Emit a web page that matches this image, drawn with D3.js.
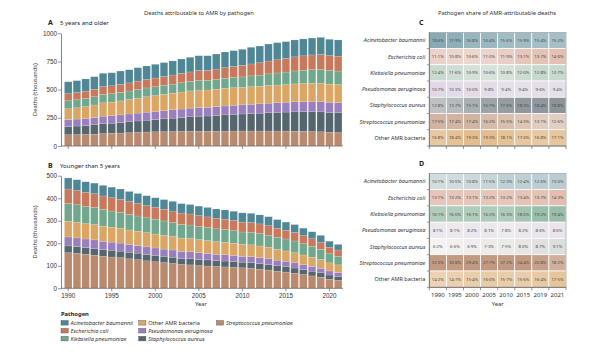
<!DOCTYPE html>
<html>
<head>
<meta charset="utf-8">
<script src="https://cdn.jsdelivr.net/npm/d3@7"></script>
<style>
  body { margin: 0; background: #fff; }
  svg { display: block; font-family: "Noto Sans", sans-serif; }
</style>
</head>
<body>
<div id="chart"></div>
<script>
const years = d3.range(1990, 2022);
const shareYears = [1990, 1995, 2000, 2005, 2010, 2015, 2019, 2021];

// stack order bottom -> top
const stackKeys = ["strep", "staph", "pseudo", "other", "kleb", "ecoli", "acin"];
const pathogenNames = {
    acin: "Acinetobacter baumannii",
    ecoli: "Escherichia coli",
    kleb: "Klebsiella pneumoniae",
    pseudo: "Pseudomonas aeruginosa",
    staph: "Staphylococcus aureus",
    strep: "Streptococcus pneumoniae",
    other: "Other AMR bacteria"
};
const pathogenColors = {
    acin: "#4f8797",
    ecoli: "#c8795c",
    kleb: "#71a88d",
    other: "#dba663",
    pseudo: "#9a7fbf",
    staph: "#56666f",
    strep: "#b98a6d"
};

// deaths (thousands), 5 years and older
const olderStrep  = [100,101,103,105,110,113,115,118,121,124,126,127,128,129,130,130,130,131,132,133,133,133,133,133,133,132,131,130,128,126,121,119];
const olderStaph  = [73,76,79,83,88,89,93,97,101,105,109,114,119,124,129,134,136,140,144,148,151,155,158,162,165,169,172,174,176,177,177,177];
const olderPseudo = [61,62,63,65,67,67,68,69,70,71,72,73,74,75,77,78,77,78,79,80,81,82,83,85,86,87,89,90,92,93,90,88];
const olderOther  = [96,100,105,111,118,120,124,128,133,137,140,144,147,151,153,155,154,155,156,156,155,156,156,157,157,157,159,160,161,162,161,161];
const olderKleb   = [71,71,72,73,75,75,76,76,77,78,79,80,81,82,83,85,85,87,89,91,93,96,99,103,107,111,115,118,121,123,121,120];
const olderEcoli  = [63,64,65,67,69,70,71,72,74,75,77,79,81,83,85,88,89,92,95,98,102,106,110,114,117,121,125,128,130,132,132,132];
const olderAcin   = [106,106,108,111,118,116,118,117,119,120,122,123,125,128,130,131,130,133,139,140,143,148,148,151,152,149,150,150,150,151,145,144];

// deaths (thousands), younger than 5 years
const youngStrep  = [158,155,151,147,142,139,136,131,127,122,118,114,110,106,104,101,99,97,95,93,91,89,85,81,76,72,67,61,55,49,40,35];
const youngStaph  = [30,30,30,30,30,30,29,29,29,28,28,28,28,27,27,27,27,26,26,26,25,25,25,25,24,24,23,22,21,20,19,18];
const youngPseudo = [40,39,38,38,37,36,36,35,34,34,33,32,32,31,31,30,29,28,28,27,26,26,26,25,25,24,23,22,21,20,18,17];
const youngOther  = [70,69,68,68,67,66,65,64,63,63,62,61,60,59,59,58,57,56,55,54,53,53,52,51,48,46,45,43,41,39,36,34];
const youngKleb   = [79,78,77,76,74,72,71,69,68,66,65,64,62,61,60,59,58,57,57,56,55,55,55,54,53,53,52,50,48,45,40,38];
const youngEcoli  = [64,63,62,61,60,59,58,57,55,54,53,52,51,50,49,48,47,46,46,45,44,44,43,42,41,39,38,36,34,32,29,28];
const youngAcin   = [49,48,47,47,47,47,46,45,45,44,43,43,43,42,42,42,42,42,41,41,41,41,40,40,38,36,35,33,31,30,27,25];

// pathogen share (%) rows in display order
const shareRowKeys = ["acin", "ecoli", "kleb", "pseudo", "staph", "strep", "other"];
const shareOlder = [
    [18.6, 17.9, 16.8, 16.4, 15.6, 15.9, 15.4, 15.2],
    [11.1, 10.8, 10.6, 11.0, 11.9, 13.1, 13.7, 14.0],
    [12.4, 11.6, 10.9, 10.6, 10.8, 12.0, 12.8, 12.7],
    [10.7, 10.3, 10.0, 9.8, 9.4, 9.4, 9.6, 9.4],
    [12.8, 13.7, 15.1, 16.7, 17.6, 18.3, 18.4, 18.8],
    [17.5, 17.4, 17.4, 16.2, 15.5, 14.3, 13.1, 12.6],
    [16.8, 18.4, 19.3, 19.3, 18.1, 17.0, 16.8, 17.1]
];
const shareYoung = [
    [10.1, 10.5, 10.8, 11.5, 12.3, 12.4, 12.6, 13.0],
    [13.1, 13.2, 13.1, 13.2, 13.2, 13.4, 13.7, 14.3],
    [16.1, 16.0, 16.1, 16.2, 16.3, 18.0, 19.2, 19.4],
    [8.1, 8.1, 8.2, 8.1, 7.8, 8.2, 8.6, 8.6],
    [6.2, 6.6, 6.9, 7.3, 7.5, 8.0, 8.7, 9.1],
    [32.3, 30.8, 29.4, 27.7, 27.2, 24.4, 20.8, 18.2],
    [14.2, 14.7, 15.4, 16.0, 15.7, 15.6, 16.4, 17.5]
];

const olderTicks = [0, 250, 500, 750, 1000];
const youngTicks = [0, 100, 200, 300, 400, 500];
const yearTicks = [1990, 1995, 2000, 2005, 2010, 2015, 2020];

const width = 600, height = 354;
const textCol = "#333";
const axisCol = "#666";

const svg = d3.select("#chart").append("svg")
    .attr("width", width)
    .attr("height", height);

svg.append("text")
    .attr("x", 199).attr("y", 15)
    .attr("text-anchor", "middle")
    .style("font-size", "5.8px")
    .style("fill", textCol)
    .text("Deaths attributable to AMR by pathogen");

svg.append("text")
    .attr("x", 497).attr("y", 15)
    .attr("text-anchor", "middle")
    .style("font-size", "5.8px")
    .style("fill", textCol)
    .text("Pathogen share of AMR-attributable deaths");

const x = d3.scaleBand()
    .domain(years)
    .range([64, 342.4])
    .paddingInner(0.13)
    .paddingOuter(0.05);

function toRows(series) {
    return years.map((yr, i) => {
        const row = { year: yr };
        stackKeys.forEach(k => { row[k] = series[k][i]; });
        return row;
    });
}

function barPanel(opts) {
    const y = d3.scaleLinear().domain([0, opts.max]).range([opts.bottom, opts.top]);
    const g = svg.append("g");

    g.append("text")
        .attr("x", 48).attr("y", opts.top - 8)
        .style("font-size", "7px").style("font-weight", "bold")
        .style("fill", "#222")
        .text(opts.letter);
    g.append("text")
        .attr("x", 60).attr("y", opts.top - 8)
        .style("font-size", "6px")
        .style("fill", "#222")
        .text(opts.subtitle);

    const stacked = d3.stack().keys(stackKeys)(toRows(opts.series));
    g.selectAll("g.layer")
        .data(stacked)
        .join("g")
        .attr("class", "layer")
        .attr("fill", d => pathogenColors[d.key])
        .selectAll("rect")
        .data(d => d)
        .join("rect")
        .attr("x", d => x(d.data.year))
        .attr("y", d => y(d[1]))
        .attr("width", x.bandwidth())
        .attr("height", d => y(d[0]) - y(d[1]))
        .attr("stroke", "#ffffff")
        .attr("stroke-opacity", 0.35)
        .attr("stroke-width", 0.4);

    const yAxis = g.append("g")
        .attr("transform", "translate(61,0)")
        .call(d3.axisLeft(y).tickValues(opts.ticks).tickFormat(d3.format("d"))
            .tickSize(3).tickSizeOuter(0));
    yAxis.select(".domain").attr("stroke", axisCol).attr("stroke-width", 0.8);
    yAxis.selectAll(".tick line").attr("stroke", axisCol).attr("stroke-width", 0.7);
    yAxis.selectAll("text").style("font-size", "6.3px").style("fill", textCol).attr("x", -4);

    const xAxis = g.append("g")
        .attr("transform", `translate(0,${opts.bottom})`)
        .call(d3.axisBottom(x).tickValues(yearTicks).tickSize(3)
            .tickFormat(opts.showYears ? d => d : ""));
    xAxis.select(".domain").remove();
    xAxis.selectAll(".tick line").attr("stroke", axisCol).attr("stroke-width", 0.7);
    xAxis.selectAll("text").style("font-size", "6.3px").style("fill", textCol).attr("y", 5);
    g.append("line")
        .attr("x1", 61).attr("x2", 343)
        .attr("y1", opts.bottom).attr("y2", opts.bottom)
        .attr("stroke", axisCol).attr("stroke-width", 0.8);

    g.append("text")
        .attr("transform", `translate(37,${(opts.top + opts.bottom) / 2}) rotate(-90)`)
        .attr("text-anchor", "middle")
        .style("font-size", "5.8px")
        .style("fill", textCol)
        .text("Deaths (thousands)");
}

barPanel({
    letter: "A", subtitle: "5 years and older",
    top: 33.3, bottom: 146, max: 1000, ticks: olderTicks, showYears: false,
    series: { strep: olderStrep, staph: olderStaph, pseudo: olderPseudo, other: olderOther,
              kleb: olderKleb, ecoli: olderEcoli, acin: olderAcin }
});

barPanel({
    letter: "B", subtitle: "Younger than 5 years",
    top: 175.7, bottom: 288.3, max: 500, ticks: youngTicks, showYears: true,
    series: { strep: youngStrep, staph: youngStaph, pseudo: youngPseudo, other: youngOther,
              kleb: youngKleb, ecoli: youngEcoli, acin: youngAcin }
});

svg.append("text")
    .attr("x", 201).attr("y", 306)
    .attr("text-anchor", "middle")
    .style("font-size", "5.8px").style("fill", textCol)
    .text("Year");

// legend
const legend = svg.append("g");
legend.append("text")
    .attr("x", 61).attr("y", 316)
    .style("font-size", "5.8px").style("font-weight", "bold").style("fill", "#222")
    .text("Pathogen");
const legendOrder = ["acin", "ecoli", "kleb", "other", "pseudo", "staph", "strep"];
legendOrder.forEach((k, i) => {
    const col = Math.floor(i / 3), row = i % 3;
    const lx = 61 + col * 77.7, ly = 320.5 + row * 7.9;
    legend.append("rect")
        .attr("x", lx).attr("y", ly)
        .attr("width", 7.2).attr("height", 4.6)
        .attr("fill", pathogenColors[k])
        .attr("stroke", "#555").attr("stroke-width", 0.4);
    legend.append("text")
        .attr("x", lx + 9.5).attr("y", ly + 4.2)
        .style("font-size", "5.6px")
        .style("font-style", k === "other" ? "normal" : "italic")
        .style("fill", textCol)
        .text(pathogenNames[k]);
});

// share heatmaps
const hx = d3.scaleBand().domain(shareYears).range([429.3, 566]);
const fmt = v => v.toFixed(1).replace(".", "\u00b7") + "%";

function heatPanel(opts) {
    const hy = d3.scaleBand().domain(shareRowKeys).range([opts.top, opts.bottom]);
    const g = svg.append("g");

    g.append("text")
        .attr("x", 419).attr("y", opts.top - 7)
        .style("font-size", "7px").style("font-weight", "bold").style("fill", "#222")
        .text(opts.letter);

    const cells = [];
    shareRowKeys.forEach((k, r) => {
        shareYears.forEach((yr, c) => cells.push({ key: k, year: yr, value: opts.values[r][c] }));
    });
    const level = v => Math.max(0, Math.min(1, (v - 6) / 16));
    const fill = d => d3.interpolateRgb("#f7f5f3", pathogenColors[d.key])(level(d.value) * 0.85);

    g.selectAll("rect.cell")
        .data(cells)
        .join("rect")
        .attr("class", "cell")
        .attr("x", d => hx(d.year))
        .attr("y", d => hy(d.key))
        .attr("width", hx.bandwidth())
        .attr("height", hy.bandwidth())
        .attr("fill", fill)
        .attr("stroke", "#fff")
        .attr("stroke-width", 0.7);

    g.selectAll("text.val")
        .data(cells)
        .join("text")
        .attr("class", "val")
        .attr("x", d => hx(d.year) + hx.bandwidth() / 2)
        .attr("y", d => hy(d.key) + hy.bandwidth() / 2)
        .attr("dy", "0.35em")
        .attr("text-anchor", "middle")
        .style("font-size", "4.3px")
        .style("fill", d => d3.lab(fill(d)).l < 60 ? "#f2f2f2" : "#4a4a4a")
        .text(d => fmt(d.value));

    g.append("rect")
        .attr("x", 429.3).attr("y", opts.top)
        .attr("width", 566 - 429.3).attr("height", opts.bottom - opts.top)
        .attr("fill", "none").attr("stroke", "#8c8c8c").attr("stroke-width", 0.6);

    // left axis with row labels
    const left = g.append("g").attr("transform", "translate(429.3,0)");
    left.append("line").attr("y1", opts.top).attr("y2", opts.bottom)
        .attr("stroke", axisCol).attr("stroke-width", 0.8);
    hy.domain().forEach(k => {
        left.append("line")
            .attr("x1", -2.5).attr("x2", 0)
            .attr("y1", hy(k) + hy.bandwidth()).attr("y2", hy(k) + hy.bandwidth())
            .attr("stroke", axisCol).attr("stroke-width", 0.6);
        left.append("text")
            .attr("x", -4)
            .attr("y", hy(k) + hy.bandwidth() / 2)
            .attr("dy", "0.35em")
            .attr("text-anchor", "end")
            .style("font-size", "5.5px")
            .style("font-style", k === "other" ? "normal" : "italic")
            .style("fill", textCol)
            .text(pathogenNames[k]);
    });

    // bottom axis: ticks at column edges
    const bottom = g.append("g").attr("transform", `translate(0,${opts.bottom})`);
    bottom.append("line").attr("x1", 429.3).attr("x2", 566)
        .attr("stroke", axisCol).attr("stroke-width", 0.8);
    shareYears.forEach((yr, i) => {
        const edges = i === 0 ? [hx(yr), hx(yr) + hx.bandwidth()] : [hx(yr) + hx.bandwidth()];
        edges.forEach(ex => bottom.append("line")
            .attr("x1", ex).attr("x2", ex).attr("y1", 0).attr("y2", 3)
            .attr("stroke", axisCol).attr("stroke-width", 0.7));
        if (opts.showYears) {
            bottom.append("text")
                .attr("x", hx(yr) + hx.bandwidth() / 2)
                .attr("y", 10)
                .attr("text-anchor", "middle")
                .style("font-size", "6px")
                .style("fill", textCol)
                .text(yr);
        }
    });
}

heatPanel({ letter: "C", top: 32.3, bottom: 146, values: shareOlder, showYears: false });
heatPanel({ letter: "D", top: 173.3, bottom: 287.3, values: shareYoung, showYears: true });

svg.append("text")
    .attr("x", 497.7).attr("y", 306)
    .attr("text-anchor", "middle")
    .style("font-size", "5.8px").style("fill", textCol)
    .text("Year");
</script>
</body>
</html>
